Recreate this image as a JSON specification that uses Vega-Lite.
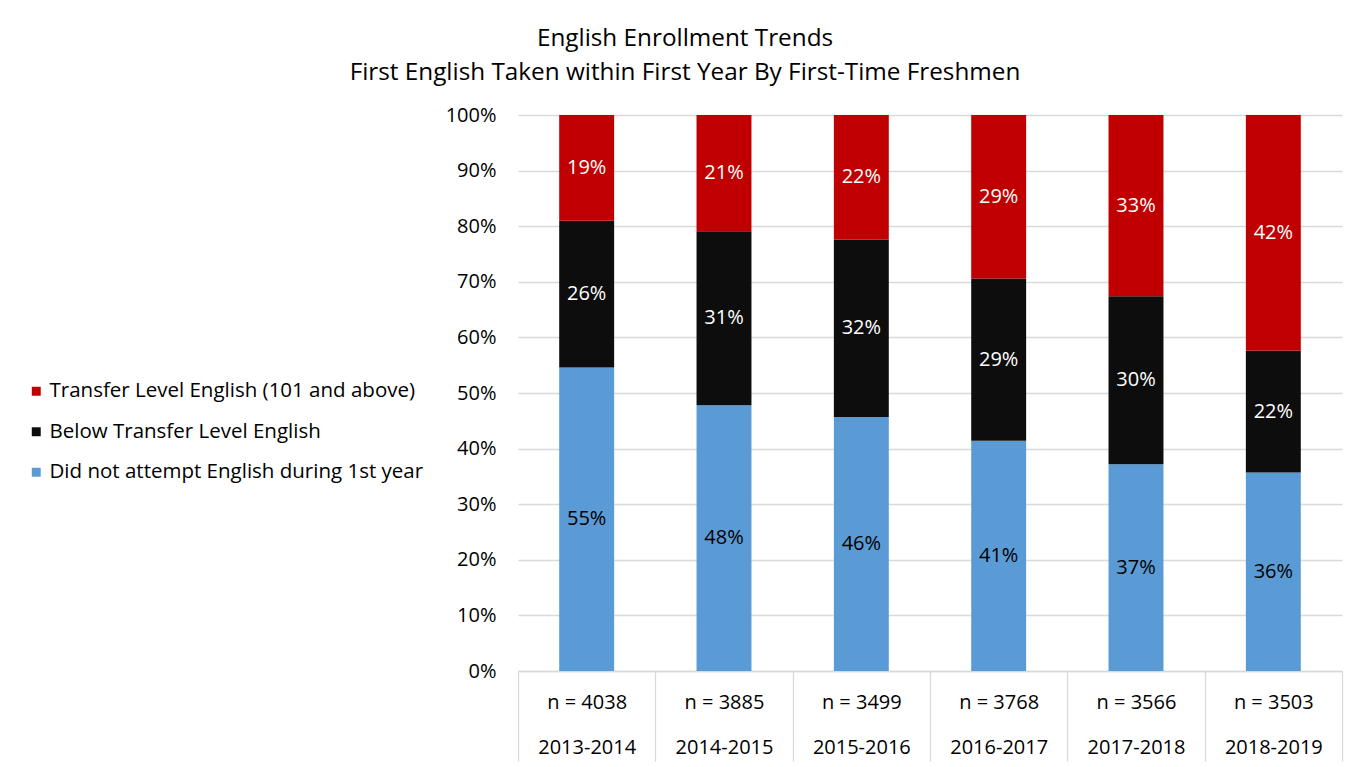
{
  "$schema": "https://vega.github.io/schema/vega-lite/v6.json",
  "autosize": "none",
  "width": 824,
  "height": 556,
  "padding": {"left": 518, "top": 115, "right": 24, "bottom": 96},
  "background": "white",
  "title": {
    "text": ["English Enrollment Trends", "First English Taken within First Year By First-Time Freshmen"],
    "anchor": "middle",
    "frame": "group",
    "dx": -245,
    "offset": 20,
    "fontSize": 24.3,
    "fontWeight": "normal",
    "lineHeight": 34,
    "color": "#000000",
    "font": "Open Sans"
  },
  "data": {
    "values": [
      {"year": "2013-2014", "n": 4038, "cat": "Did not attempt English during 1st year", "value": 0.546},
      {"year": "2013-2014", "n": 4038, "cat": "Below Transfer Level English", "value": 0.264},
      {"year": "2013-2014", "n": 4038, "cat": "Transfer Level English (101 and above)", "value": 0.190},
      {"year": "2014-2015", "n": 3885, "cat": "Did not attempt English during 1st year", "value": 0.478},
      {"year": "2014-2015", "n": 3885, "cat": "Below Transfer Level English", "value": 0.313},
      {"year": "2014-2015", "n": 3885, "cat": "Transfer Level English (101 and above)", "value": 0.209},
      {"year": "2015-2016", "n": 3499, "cat": "Did not attempt English during 1st year", "value": 0.457},
      {"year": "2015-2016", "n": 3499, "cat": "Below Transfer Level English", "value": 0.319},
      {"year": "2015-2016", "n": 3499, "cat": "Transfer Level English (101 and above)", "value": 0.224},
      {"year": "2016-2017", "n": 3768, "cat": "Did not attempt English during 1st year", "value": 0.414},
      {"year": "2016-2017", "n": 3768, "cat": "Below Transfer Level English", "value": 0.292},
      {"year": "2016-2017", "n": 3768, "cat": "Transfer Level English (101 and above)", "value": 0.294},
      {"year": "2017-2018", "n": 3566, "cat": "Did not attempt English during 1st year", "value": 0.372},
      {"year": "2017-2018", "n": 3566, "cat": "Below Transfer Level English", "value": 0.302},
      {"year": "2017-2018", "n": 3566, "cat": "Transfer Level English (101 and above)", "value": 0.326},
      {"year": "2018-2019", "n": 3503, "cat": "Did not attempt English during 1st year", "value": 0.357},
      {"year": "2018-2019", "n": 3503, "cat": "Below Transfer Level English", "value": 0.219},
      {"year": "2018-2019", "n": 3503, "cat": "Transfer Level English (101 and above)", "value": 0.424}
    ]
  },
  "transform": [
    {"calculate": "indexof(['Did not attempt English during 1st year', 'Below Transfer Level English', 'Transfer Level English (101 and above)'], datum.cat)", "as": "ord"},
    {"calculate": "datum.year + '|n = ' + datum.n", "as": "xlab"},
    {"stack": "value", "groupby": ["year"], "sort": [{"field": "ord", "order": "ascending"}], "as": ["v0", "v1"]},
    {"calculate": "(datum.v0 + datum.v1) / 2", "as": "mid"}
  ],
  "encoding": {
    "x": {
      "field": "xlab",
      "type": "nominal",
      "sort": "ascending",
      "scale": {"paddingInner": 0, "paddingOuter": 0},
      "axis": {
        "title": null,
        "labelAngle": 0,
        "labelExpr": "[split(datum.label, '|')[1], split(datum.label, '|')[0]]",
        "labelFontSize": 20,
        "labelLineHeight": 45,
        "labelPadding": -59,
        "labelColor": "#000000",
        "labelFont": "Open Sans",
        "labelBaseline": "middle",
        "ticks": true,
        "tickBand": "extent",
        "tickSize": 90,
        "tickColor": "#d9d9d9",
        "tickWidth": 1.3,
        "domainColor": "#d9d9d9",
        "domainWidth": 1.3,
        "grid": false
      }
    }
  },
  "layer": [
    {
      "mark": {"type": "bar", "width": {"band": 0.4}},
      "encoding": {
        "y": {
          "field": "v1",
          "type": "quantitative",
          "scale": {"domain": [0, 1], "nice": false},
          "axis": {
            "title": null,
            "format": ".0%",
            "values": [0, 0.1, 0.2, 0.3, 0.4, 0.5, 0.6, 0.7, 0.8, 0.9, 1],
            "labelFontSize": 20,
            "labelColor": "#000000",
            "labelFont": "Open Sans",
            "labelPadding": 22,
            "ticks": false,
            "domain": false,
            "grid": true,
            "gridColor": "#d9d9d9",
            "gridWidth": 1.3
          }
        },
        "y2": {"field": "v0"},
        "color": {
          "field": "cat",
          "type": "nominal",
          "scale": {
            "domain": ["Transfer Level English (101 and above)", "Below Transfer Level English", "Did not attempt English during 1st year"],
            "range": ["#C00000", "#0D0D0D", "#5B9BD5"]
          },
          "legend": {
            "title": null,
            "orient": "none",
            "legendX": -492,
            "legendY": 266,
            "symbolType": "square",
            "symbolSize": 80,
            "symbolStrokeWidth": 0,
            "labelFontSize": 20.5,
            "labelFont": "Open Sans",
            "labelColor": "#000000",
            "labelOffset": 3,
            "rowPadding": 19.5,
            "labelLimit": 500
          }
        }
      }
    },
    {
      "mark": {"type": "text", "fontSize": 20, "font": "Open Sans", "baseline": "middle", "align": "center"},
      "encoding": {
        "y": {"field": "mid", "type": "quantitative"},
        "text": {"field": "value", "type": "quantitative", "format": ".0%"},
        "color": {
          "condition": {"test": "datum.cat === 'Did not attempt English during 1st year'", "value": "#000000"},
          "value": "#ffffff"
        }
      }
    }
  ],
  "config": {
    "view": {"stroke": null},
    "font": "Open Sans"
  }
}
